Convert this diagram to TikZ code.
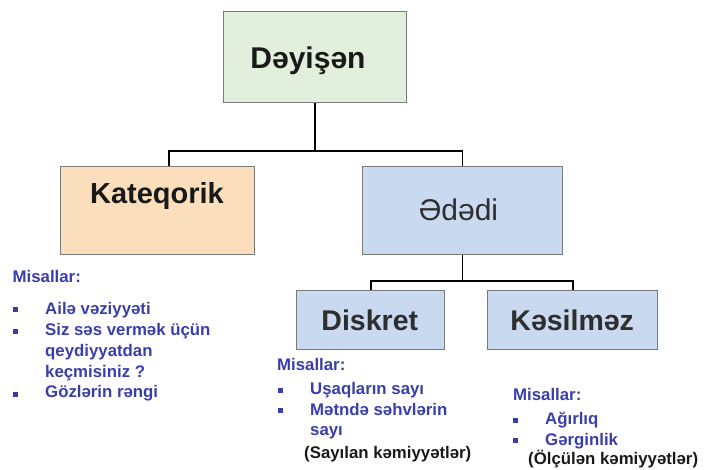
\documentclass[tikz,border=0pt]{standalone}
\usepackage{fontspec}
\setmainfont{Liberation Sans}
\definecolor{boxgreen}{HTML}{E2EFDA}
\definecolor{boxpeach}{HTML}{FBDFBD}
\definecolor{boxblue}{HTML}{C9DAF0}
\definecolor{boxline}{HTML}{7A7A7A}
\definecolor{misblue}{RGB}{58,62,170}
\definecolor{labelgrey}{HTML}{2E2E2E}
\tikzset{
  box/.style={draw=boxline, line width=1.3pt, rectangle, inner sep=0pt, anchor=north west},
  conn/.style={draw=black, line width=1.8pt},
  boxlabel/.style={anchor=base, inner sep=0pt},
  exitem/.style={anchor=base west, inner sep=0pt, text=misblue,
    font=\fontsize{16.8}{20}\selectfont\bfseries},
  exnote/.style={anchor=base west, inner sep=0pt, text=black!90,
    font=\fontsize{16.8}{20}\selectfont\bfseries},
  bullet/.style={rectangle, fill=misblue, inner sep=0pt, minimum size=5pt}
}
\begin{document}
\begin{tikzpicture}[x=1pt, y=-1pt]
\useasboundingbox (0,0) rectangle (705,470);

% boxes
\node[box, fill=boxgreen, minimum width=183.5pt, minimum height=91pt] (dayisen) at (222.5,11) {};
\node[box, fill=boxpeach, minimum width=194pt, minimum height=88pt] (kateqorik) at (60,166) {};
\node[box, fill=boxblue, minimum width=199.5pt, minimum height=88pt] (ededi) at (362,166) {};
\node[box, fill=boxblue, minimum width=148pt, minimum height=59pt] (diskret) at (296,290) {};
\node[box, fill=boxblue, minimum width=170pt, minimum height=59pt] (kesilmez) at (487,290) {};

% box labels
\node[boxlabel, text=black!90, font=\fontsize{30}{34}\selectfont\bfseries] (dayisenT) at (308,68.3) {Dəyişən};
\node[boxlabel, text=black!90, font=\fontsize{29}{33}\selectfont\bfseries] (kateqorikT) at (157,203.3) {Kateqorik};
\node[boxlabel, text=labelgrey, font=\fontsize{30}{34}\selectfont] (edediT) at (458.5,220.7) {Ədədi};
\node[boxlabel, text=labelgrey, font=\fontsize{28.5}{32}\selectfont\bfseries] (diskretT) at (369.8,330.7) {Diskret};
\node[boxlabel, text=labelgrey, font=\fontsize{28.5}{32}\selectfont\bfseries] (kesilmezT) at (572.2,330.7) {Kəsilməz};

% connectors
\coordinate (busA) at (0,151);
\coordinate (busB) at (0,281);
\coordinate (katTop) at (169,166);
\draw[conn] (dayisen.south) -- (dayisen.south |- busA);
\draw[conn] (katTop) |- (ededi.north |- busA) -- (ededi.north);
\draw[conn] (ededi.south) -- (ededi.south |- busB);
\draw[conn] (diskret.north) |- (kesilmez.north |- busB) -- (kesilmez.north);

% examples: categorical
\node[exitem] (m1) at (12.5,283) {Misallar:};
\node[bullet] (b11) at (15,310) {};
\node[exitem] (e11) at (45,314.3) {Ailə vəziyyəti};
\node[bullet] (b12) at (15,331.7) {};
\node[exitem] (e12) at (45,336) {Siz səs vermək üçün};
\node[exitem] (e12b) at (45,356.6) {qeydiyyatdan};
\node[exitem] (e12c) at (45,377.3) {keçmisiniz ?};
\node[bullet] (b13) at (15,394.3) {};
\node[exitem] (e13) at (45,397.7) {Gözlərin rəngi};

% examples: discrete
\node[exitem] (m2) at (277,371) {Misallar:};
\node[bullet] (b21) at (280,390.5) {};
\node[exitem] (e21) at (310,395) {Uşaqların sayı};
\node[bullet] (b22) at (280,411) {};
\node[exitem] (e22) at (310,416) {Mətndə səhvlərin};
\node[exitem] (e22b) at (310,435.7) {sayı};
\node[exnote] (n2) at (304,458.3) {(Sayılan kəmiyyətlər)};

% examples: continuous
\node[exitem] (m3) at (513,400.7) {Misallar:};
\node[bullet] (b31) at (515,420.5) {};
\node[exitem] (e31) at (545,425) {Ağırlıq};
\node[bullet] (b32) at (515,441) {};
\node[exitem] (e32) at (545,446) {Gərginlik};
\node[exnote] (n3) at (528,465) {(Ölçülən kəmiyyətlər)};
\end{tikzpicture}
\end{document}
